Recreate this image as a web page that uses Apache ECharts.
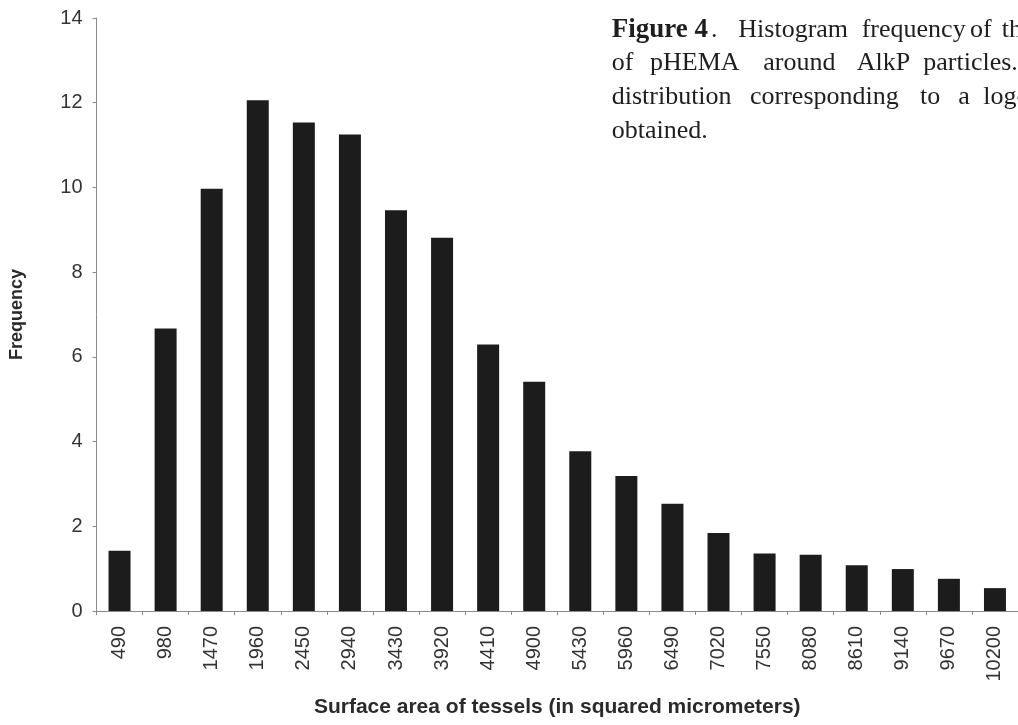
<!DOCTYPE html>
<html>
<head>
<meta charset="utf-8">
<script src="https://cdn.jsdelivr.net/npm/echarts@6/dist/echarts.min.js"></script>
<style>
html,body{margin:0;padding:0;background:#fff;}
#chart{width:1018px;height:725px;}
</style>
</head>
<body>
<div id="chart"></div>
<script>
var categories = ['490','980','1470','1960','2450','2940','3430','3920','4410','4900','5430','5960','6490','7020','7550','8080','8610','9140','9670','10200'];
var frequency = [1.42, 6.67, 9.97, 12.06, 11.53, 11.25, 9.46, 8.81, 6.29, 5.41, 3.77, 3.19, 2.53, 1.84, 1.36, 1.33, 1.08, 0.99, 0.76, 0.54];
var yTicks = {min: 0, max: 14, interval: 2};
var xTitle = 'Surface area of tessels (in squared micrometers)';
var yTitle = 'Frequency';

var serif = '"Liberation Serif", "Times New Roman", serif';
var sans = '"Liberation Sans", Arial, sans-serif';
var capFont = 26;
var capFill = '#1e1e1e';

function word(t, x, y, bold) {
  return {
    type: 'text', x: x, y: y, silent: true,
    style: {text: t, fill: capFill, fontFamily: serif, fontSize: bold ? 27 : capFont,
            fontWeight: bold ? 'bold' : 'normal', align: 'left', verticalAlign: 'middle'}
  };
}

var caption = [
  word('Figure 4', 611.7, 30, true), word('.', 711, 30, false),
  word('Histogram', 738.3, 30), word('frequency', 861.7, 30), word('of', 970, 30), word('the', 1001.7, 30),
  word('of', 611.7, 63), word('pHEMA', 650, 63), word('around', 763.3, 63), word('AlkP', 856.7, 63), word('particles.', 923.3, 63),
  word('distribution', 611.7, 97), word('corresponding', 750, 97), word('to', 920, 97), word('a', 958.3, 97), word('log-normal', 983.3, 97),
  word('obtained.', 611.7, 131)
];

var chart = echarts.init(document.getElementById('chart'), null, {renderer: 'canvas'});
chart.setOption({
  backgroundColor: '#ffffff',
  animation: false,
  grid: {left: 96.5, top: 18, width: 930, height: 593, containLabel: false},
  xAxis: {
    type: 'category',
    data: categories,
    boundaryGap: true,
    axisLine: {show: true, lineStyle: {color: '#8a8a8a', width: 1}},
    axisTick: {show: true, length: 4, alignWithLabel: false, lineStyle: {color: '#8a8a8a'}},
    axisLabel: {interval: 0, rotate: 90, margin: 15, fontSize: 20, color: '#333', fontFamily: sans},
    splitLine: {show: false},
    name: xTitle,
    nameLocation: 'middle',
    nameGap: 86,
    nameTextStyle: {fontSize: 21, fontWeight: 'bold', color: '#2a2a2a', fontFamily: sans}
  },
  yAxis: {
    type: 'value',
    min: yTicks.min, max: yTicks.max, interval: yTicks.interval,
    axisLine: {show: true, lineStyle: {color: '#8a8a8a', width: 1}},
    axisTick: {show: true, length: 4, lineStyle: {color: '#8a8a8a'}},
    axisLabel: {margin: 14, fontSize: 20, color: '#333', fontFamily: sans},
    splitLine: {show: false},
    name: yTitle,
    nameLocation: 'middle',
    nameGap: 70,
    nameTextStyle: {fontSize: 18, fontWeight: 'bold', color: '#2a2a2a', fontFamily: sans}
  },
  series: [{
    type: 'bar',
    data: frequency,
    barWidth: 22,
    itemStyle: {color: '#1c1c1c'}
  }],
  graphic: caption
});
</script>
</body>
</html>
